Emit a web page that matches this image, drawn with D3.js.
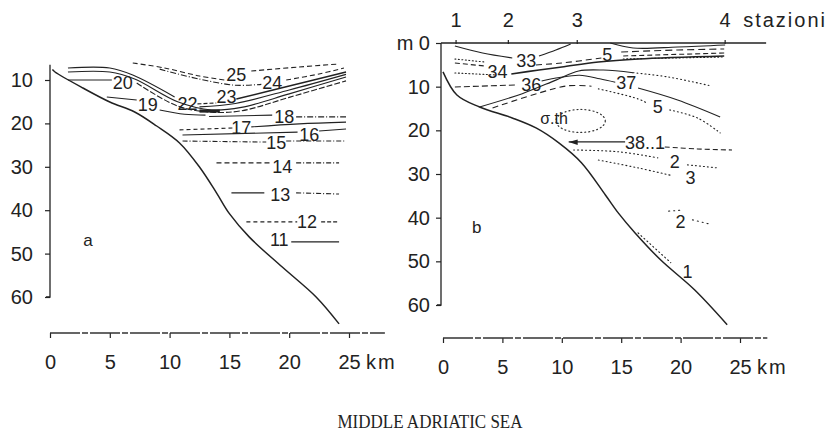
<!DOCTYPE html>
<html><head><meta charset="utf-8">
<script src="https://cdn.jsdelivr.net/npm/d3@7"></script>
<style>
body{margin:0;background:#fff}
svg text{font-family:"Liberation Sans",Arial,sans-serif;fill:#222}
</style></head>
<body><svg id="c" width="834" height="435"></svg>
<script>
// ---------------- data ----------------
const kmTicks = [0, 5, 10, 15, 20, 25];
const depthTicksA = [10, 20, 30, 40, 50, 60];
const depthTicksB = [0, 10, 20, 30, 40, 50, 60];
const stations = [["1", 1.1], ["2", 5.5], ["3", 11.3], ["4", 23.75]];

// sea-bottom profiles [km, depth m]
const bottomA = [[0.2,7.6],[0.42,8.16],[2.75,11.84],[5.0,15.07],[7.08,17.37],[8.92,20.6],[10.83,24.5],[12.5,30.05],[13.92,36.0],[15.0,40.8],[16.67,46.2],[19.42,53.1],[22.25,60.0],[24.17,66.2]];
const bottomB = [[0,6.6],[1.17,11.9],[3.08,14.65],[5.83,17.16],[7.83,19.45],[9.75,22.88],[11.67,27.46],[13.67,34.8],[14.75,38.9],[16.17,43.5],[18.33,49.7],[21.17,56.5],[23.92,64.5]];

// panel a: temperature isolines (id, points [km, depth])
const tempLines = [
  ["t25a", [[6.92,6.08],[9.58,7.23],[12.5,9.08],[14.58,10.0]]],
  ["t25b", [[16.83,7.93],[20.83,7.0],[24.17,6.31]]],
  ["t24a", [[9.17,7.5],[12.5,9.8],[15.5,11.2],[17.67,11.0]]],
  ["t24b", [[19.75,10.0],[22.5,8.62],[24.58,7.23]]],
  ["t23a", [[12.33,15.5],[13.9,15.3]]],
  ["t23b", [[15.58,14.38],[20.0,11.38],[24.75,8.16]]],
  ["t22a", [[1.5,7.23],[5.0,7.23],[6.92,8.85],[10.42,13.9]]],
  ["t22b", [[12.5,16.2],[15.5,15.4],[20.0,12.3],[24.75,8.7]]],
  ["t21",  [[1.5,8.16],[5.0,8.16],[7.08,9.77],[10.67,15.0],[13.5,16.9],[16.0,16.3],[20.0,13.2],[24.75,9.3]]],
  ["t20a", [[1.5,10.0],[5.17,10.0]]],
  ["t20b", [[7.25,10.7],[10.67,16.0],[13.5,17.4],[16.0,17.1],[20.0,14.0],[24.75,10.2]]],
  ["t19a", [[4.75,13.9],[7.25,14.6]]],
  ["t19b", [[9.17,16.9],[11.25,17.9],[13.0,18.1]]],
  ["t19c", [[12.5,17.15],[14.2,17.15]]],
  ["t18a", [[13.3,18.4],[18.58,18.1]]],
  ["t18b", [[20.58,18.5],[24.75,18.5]]],
  ["t17a", [[10.83,21.5],[15.25,21.06]]],
  ["t17b", [[16.83,20.8],[20.83,20.1],[24.75,19.7]]],
  ["t16a", [[11.08,22.67],[20.7,22.0]]],
  ["t16b", [[22.5,21.75],[24.75,21.3]]],
  ["t15a", [[11.08,24.06],[18.08,24.3]]],
  ["t15b", [[19.75,24.06],[24.75,24.06]]],
  ["t14a", [[13.92,29.1],[18.58,29.1]]],
  ["t14b", [[20.58,29.1],[24.17,29.1]]],
  ["t13a", [[15.17,36.0],[17.92,36.0]]],
  ["t13b", [[20.58,36.0],[24.17,36.27]]],
  ["t12a", [[16.42,42.7],[20.67,42.7]]],
  ["t12b", [[22.67,42.7],[24.17,42.7]]],
  ["t11",  [[20.17,47.3],[24.17,47.3]]]
];
const tempLabels = [
  ["25",15.58,8.85],["24",18.58,10.7],["23",14.75,13.9],["22",11.5,15.5],["20",6.08,10.7],
  ["19",8.17,15.76],["18",19.58,18.5],["17",16.0,21.06],["16",21.67,22.67],["15",18.92,24.5],
  ["14",19.42,30.05],["13",19.25,36.5],["12",21.5,42.7],["11",19.17,46.9]
];

// panel b: salinity isolines
const salLines = [
  ["s33a", [[1.0,0.69],[3.33,2.29],[5.83,3.43]]],
  ["s33b", [[8.08,2.97],[9.5,1.6],[10.75,0.23]]],
  ["s33c", [[14.08,0],[16.0,1.14],[19.75,0.92],[23.75,0.46]]],
  ["s35a", [[7.83,5.03],[10.0,4.58],[13.33,3.43]]],
  ["s35b", [[15.0,2.06],[19.75,1.6],[23.67,1.37]]],
  ["s35c", [[15.17,2.97],[23.67,2.29]]],
  ["s35d", [[15.17,3.66],[23.67,3.2]]],
  ["s34p", [[1.0,3.66],[3.5,4.35]]],
  ["s34a", [[1.0,4.58],[3.5,5.26]]],
  ["s34b", [[5.75,7.09],[8.08,6.18],[10.0,5.49],[13.08,4.35],[16.42,3.66],[23.67,2.97]]],
  ["s36p", [[1.0,6.86],[4.5,7.32]]],
  ["s36a", [[1.0,10.07],[6.17,9.61]]],
  ["s36b", [[3.08,14.65],[6.67,11.6],[9.5,8.5],[11.42,6.4],[13.5,6.2],[16.0,6.8]]],
  ["s36c", [[16.0,6.8],[19.0,7.8],[22.5,9.8]]],
  ["s37a", [[8.3,8.7],[9.8,7.9],[11.5,7.4],[13.2,8.2],[14.5,9.0]]],
  ["s37b", [[16.42,10.3],[19.75,13.04],[23.33,16.93]]],
  ["s37c", [[4.17,14.87],[8.08,11.44],[10.5,9.8],[12.5,9.9]]],
  ["s375a", [[13.08,10.5],[16.42,12.8],[17.25,13.9]]],
  ["s375b", [[19.08,15.33],[21.42,17.16],[23.33,20.6]]],
  ["s381a", [[10.58,22.65],[15.33,22.65]]],
  ["s381b", [[18.67,23.8],[21.42,24.26],[24.33,24.5]]],
  ["s382a", [[11.0,24.5],[14.75,24.9],[18.08,26.3]]],
  ["s382b", [[20.58,27.9],[23.08,28.6]]],
  ["s383",  [[13.08,26.8],[16.42,28.6],[19.33,30.4]]],
  ["s382c", [[21.0,40.5],[22.5,41.5]]],
  ["s382d", [[19.0,38.5],[20.0,38.3]]],
  ["s381c", [[16.42,43.5],[19.17,50.3]]]
];
const salLabels = [
  ["33",7.0,4.12],["5",13.83,2.75],["34",4.58,6.64],["36",7.42,9.61],["37",15.42,9.15],
  ["5",18.08,14.65],["38..1",17.0,22.88],["2",19.5,27.2],["3",20.83,30.9],["2",20.0,40.96],["1",20.58,52.4]
];
const maxCell = {label: "σ.th", labelAt: [9.35, 17.4], center: [11.58, 17.85], rKm: 2.08, rM: 2.63};
const arrowAt = [10.58, 22.65];

// ---------------- styles (kept apart from data) ----------------
const INK = "#222";
const dashOf = {
  t25a:"5,3", t25b:"5,3", t24a:"6,2,1,2", t24b:"5,3", t23a:"4,2", t20b:"6,2",
  t18b:"6,2,1,2", t17a:"4,3", t15a:"5,2,1,2", t15b:"5,2,1,2", t14a:"5,3", t14b:"5,2,1,2",
  t13b:"5,2,1,2", t12a:"4,3", t12b:"4,2",
  s35a:"6,4", s35b:"7,4", s35c:"5,3", s35d:"1,2.5", s34p:"1,2.5", s34a:"5,3", s36p:"1,2.5",
  s36a:"6,3", s36c:"1,3", s37c:"6,4", s375a:"1,3", s375b:"1,3", s381b:"5,3",
  s382a:"1,3", s382b:"1,3", s383:"1,3", s382c:"1,4", s382d:"1,4", s381c:"1,3"
};
const widthOf = { t19c: 3.2, s34b: 1.6, t23b: 1.4 };

// ---------------- drawing ----------------
const svg = d3.select("#c");
const xA = d3.scaleLinear().domain([0, 25]).range([50, 349]);
const yA = d3.scaleLinear().domain([10, 60]).range([80, 297]);
const xB = d3.scaleLinear().domain([0, 25]).range([443, 740]);
const yB = d3.scaleLinear().domain([0, 60]).range([43, 305]);

function lineGen(x, y) {
  return d3.line().x(d => x(d[0])).y(d => y(d[1])).curve(d3.curveCatmullRom.alpha(0.5));
}

function drawPanel(x, y, bottom, lines, labels) {
  const g = svg.append("g");
  const lg = lineGen(x, y);
  g.append("path").attr("d", lg(bottom)).attr("fill", "none").attr("stroke", INK).attr("stroke-width", 1.5);
  g.selectAll("path.iso").data(lines).join("path").attr("class", "iso")
    .attr("d", d => lg(d[1])).attr("fill", "none").attr("stroke", INK)
    .attr("stroke-width", d => widthOf[d[0]] || 1.1)
    .attr("stroke-linecap", d => (dashOf[d[0]] || "").startsWith("1,") ? "round" : "butt")
    .attr("stroke-dasharray", d => dashOf[d[0]] || null);
  g.selectAll("text.lab").data(labels).join("text").attr("class", "lab")
    .attr("x", d => x(d[1])).attr("y", d => y(d[2]))
    .attr("text-anchor", "middle").attr("dominant-baseline", "central")
    .attr("font-size", 18).text(d => d[0]);
  return g;
}

function yAxis(y, xPos, ticks, top, pad, fmt) {
  const ax = d3.axisLeft(y).tickValues(ticks).tickSize(5).tickPadding(pad).tickFormat(fmt);
  const g = svg.append("g").attr("transform", `translate(${xPos},0)`).call(ax);
  g.select(".domain").remove();
  g.selectAll(".tick line").attr("stroke", INK).attr("stroke-width", 1.2);
  g.selectAll(".tick text").attr("font-size", 20).attr("fill", INK)
    .style("font-family", '"Liberation Sans",Arial,sans-serif');
  g.append("path").attr("d", `M0,${y(top)}V${y(60)}h-4`).attr("fill", "none")
    .attr("stroke", INK).attr("stroke-width", 1.3);
}

function xAxis(x, yPos, endKm) {
  const ax = d3.axisBottom(x).tickValues(kmTicks).tickSize(5).tickPadding(17);
  const g = svg.append("g").attr("transform", `translate(0,${yPos})`).call(ax);
  g.select(".domain").remove();
  g.selectAll(".tick line").attr("stroke", INK).attr("stroke-width", 1.2);
  g.selectAll(".tick text").attr("font-size", 20).attr("fill", INK)
    .style("font-family", '"Liberation Sans",Arial,sans-serif');
  g.append("path").attr("d", `M${x(0)},0H${x(endKm)}`).attr("stroke", "#333")
    .attr("stroke-width", 1.3).attr("stroke-dasharray", "30,2,6,2");
  g.append("text").attr("x", x(25) + 17).attr("y", 22).attr("dy", "0.71em")
    .attr("text-anchor", "start").attr("font-size", 20).attr("letter-spacing", 2).text("km");
}

// Panel a
drawPanel(xA, yA, bottomA, tempLines, tempLabels);
yAxis(yA, 50, depthTicksA, 6.5, 12, d => d);
xAxis(xA, 333, 28);
svg.append("text").attr("x", xA(3.17)).attr("y", yA(46.9)).attr("text-anchor", "middle")
  .attr("dominant-baseline", "central").attr("font-size", 17).text("a");

// Panel b
const gB = drawPanel(xB, yB, bottomB, salLines, salLabels);
gB.append("ellipse").attr("cx", xB(maxCell.center[0])).attr("cy", yB(maxCell.center[1]))
  .attr("rx", xB(maxCell.rKm) - xB(0)).attr("ry", yB(maxCell.rM) - yB(0))
  .attr("fill", "none").attr("stroke", "#333").attr("stroke-width", 1.2)
  .attr("stroke-dasharray", "1,3").attr("stroke-linecap", "round");
gB.append("text").attr("x", xB(maxCell.labelAt[0])).attr("y", yB(maxCell.labelAt[1]))
  .attr("text-anchor", "middle").attr("dominant-baseline", "central").attr("font-size", 16)
  .text(maxCell.label);
gB.append("path").attr("transform", `translate(${xB(arrowAt[0])},${yB(arrowAt[1])})`)
  .attr("d", "M0,0L9,-2.5L9,3Z").attr("fill", INK);
// surface line
svg.append("path").attr("d", `M${xB(0) - 2},${yB(0)}H${xB(27.2)}`).attr("stroke", INK).attr("stroke-width", 1.4);
svg.selectAll("line.st").data(stations).join("line").attr("class", "st")
  .attr("x1", d => xB(d[1])).attr("x2", d => xB(d[1])).attr("y1", yB(0) - 3).attr("y2", yB(0) + 1)
  .attr("stroke", INK).attr("stroke-width", 1.2);
svg.selectAll("text.st").data(stations).join("text").attr("class", "st")
  .attr("x", d => xB(d[1])).attr("y", 27).attr("text-anchor", "middle")
  .attr("font-size", 20).text(d => d[0]);
svg.append("text").attr("x", xB(23.75) + 18).attr("y", 27).attr("font-size", 20)
  .attr("letter-spacing", 2).text("stazioni");
yAxis(yB, 441, depthTicksB, 0, 6, d => d === 0 ? "m 0" : d);
xAxis(xB, 338, 27.3);
svg.append("text").attr("x", xB(2.83)).attr("y", yB(42.3)).attr("text-anchor", "middle")
  .attr("dominant-baseline", "central").attr("font-size", 17).text("b");

// Title
svg.append("text").attr("x", 430).attr("y", 428).attr("text-anchor", "middle")
  .style("font-family", '"Liberation Serif","Times New Roman",serif')
  .attr("font-size", 19).attr("textLength", 185).attr("lengthAdjust", "spacingAndGlyphs")
  .text("MIDDLE ADRIATIC SEA");
</script>
</body></html>
